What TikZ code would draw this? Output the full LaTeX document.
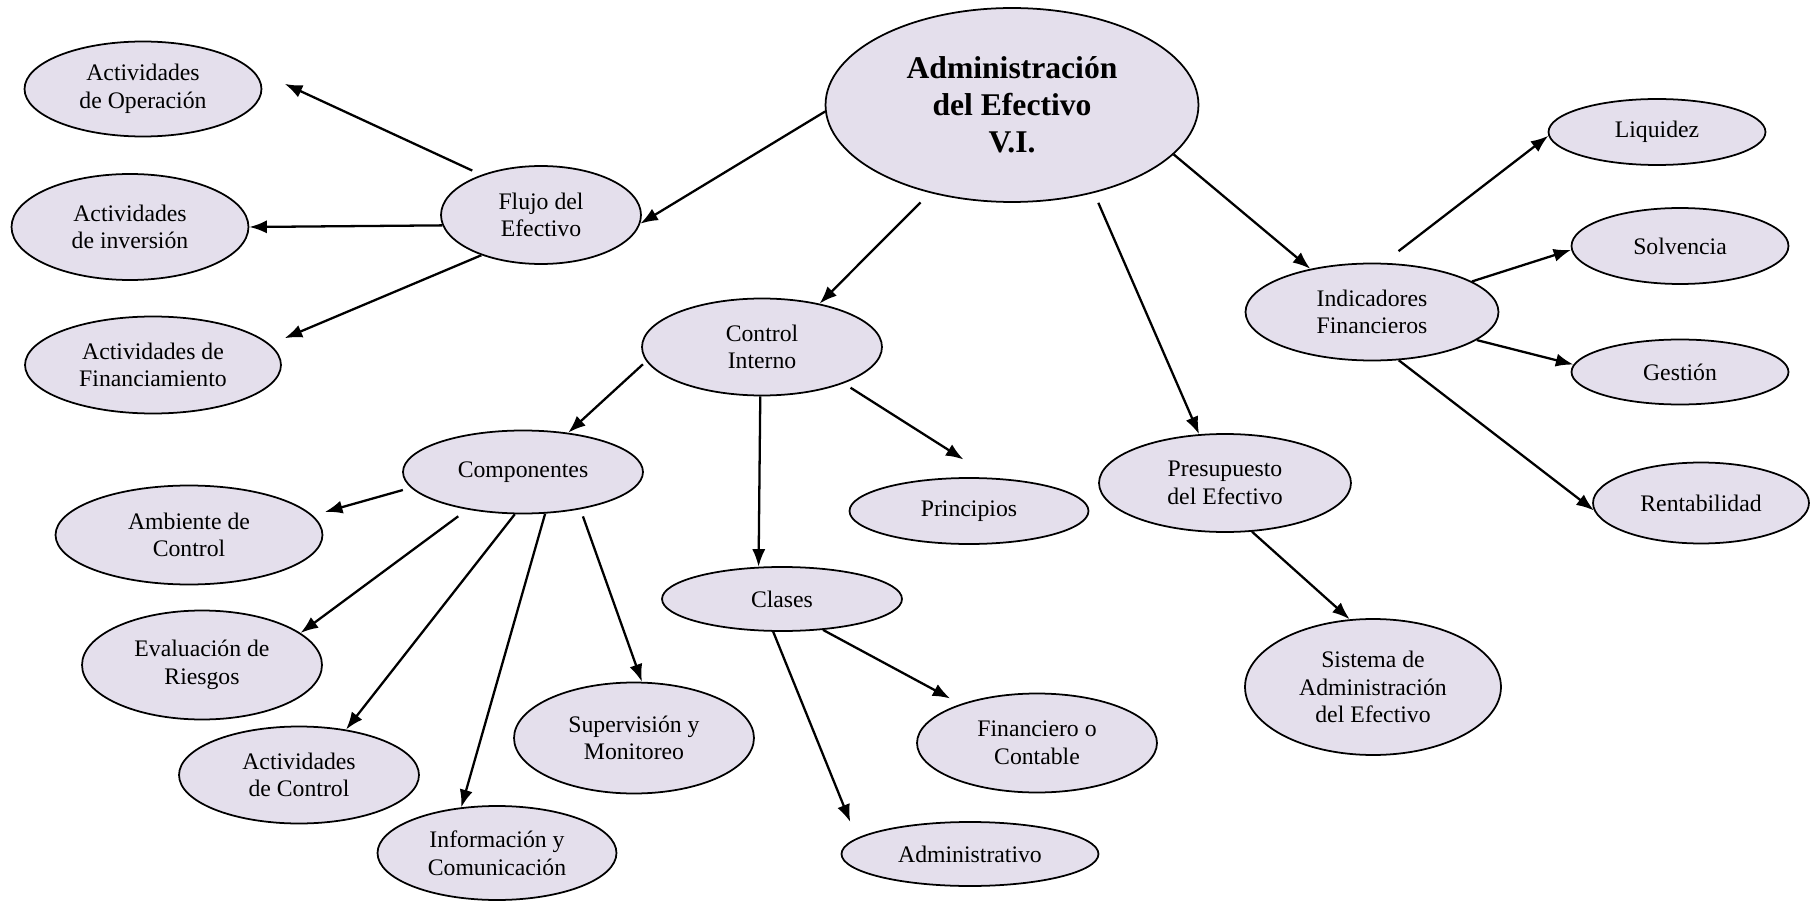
\documentclass[tikz,border=0pt]{standalone}
\usepackage{fontspec}
\setmainfont{Liberation Serif}
\usetikzlibrary{shapes.geometric,arrows.meta}
\definecolor{lavanda}{RGB}{228,223,236}
\begin{document}
\begin{tikzpicture}
  [x=0.02cm,y=-0.02cm,>={Latex[length=10pt,width=7.5pt]},
   concept/.style={ellipse,draw,fill=lavanda,line width=1pt,inner sep=0pt,
     align=center,font=\fontsize{13.5}{15.7}\selectfont},
   title/.style={concept,font=\fontsize{18}{21}\selectfont\bfseries},
   link/.style={->,line width=1.3pt}]
  \useasboundingbox (0,0) rectangle (1813,902);

  \node (main) at (1012,105) [title,minimum width=7.46cm,minimum height=3.88cm] {Administración\\del Efectivo\\V.I.};

  \node (flujo) at (541,215) [concept,minimum width=4cm,minimum height=1.96cm] {Flujo del\\Efectivo};
  \node (actop) at (143,89) [concept,minimum width=4.74cm,minimum height=1.9cm] {Actividades\\de Operación};
  \node (actinv) at (130,227) [concept,minimum width=4.74cm,minimum height=2.12cm] {Actividades\\de inversión};
  \node (actfin) at (153,365) [concept,minimum width=5.12cm,minimum height=1.94cm] {Actividades de\\Financiamiento};

  \node (control) at (762,347) [concept,minimum width=4.8cm,minimum height=1.94cm] {Control\\Interno};
  \node (comp) at (523,472) [concept,minimum width=4.8cm,minimum height=1.66cm] {Componentes};
  \node (amb) at (189,535) [concept,minimum width=5.34cm,minimum height=1.98cm] {Ambiente de\\Control};
  \node (eval) at (202,665) [concept,minimum width=4.8cm,minimum height=2.18cm] {Evaluación de\\Riesgos};
  \node (actctrl) at (299,775) [concept,minimum width=4.8cm,minimum height=1.94cm] {Actividades\\de Control};
  \node (info) at (497,853) [concept,minimum width=4.78cm,minimum height=1.88cm] {Información y\\Comunicación};
  \node (superv) at (634,738) [concept,minimum width=4.8cm,minimum height=2.22cm] {Supervisión y\\Monitoreo};
  \node (princ) at (969,511) [concept,minimum width=4.78cm,minimum height=1.32cm] {Principios};
  \node (clases) at (782,599) [concept,minimum width=4.8cm,minimum height=1.28cm] {Clases};
  \node (fin) at (1037,743) [concept,minimum width=4.8cm,minimum height=1.98cm] {Financiero o\\Contable};
  \node (admin) at (970,854) [concept,minimum width=5.14cm,minimum height=1.28cm] {Administrativo};

  \node (presup) at (1225,483) [concept,minimum width=5.04cm,minimum height=1.96cm] {Presupuesto\\del Efectivo};
  \node (sist) at (1373,687) [concept,minimum width=5.12cm,minimum height=2.72cm] {Sistema de\\Administración\\del Efectivo};

  \node (ind) at (1372,312) [concept,minimum width=5.06cm,minimum height=1.94cm] {Indicadores\\Financieros};
  \node (liq) at (1657,132) [concept,minimum width=4.34cm,minimum height=1.32cm] {Liquidez};
  \node (solv) at (1680,246) [concept,minimum width=4.34cm,minimum height=1.52cm] {Solvencia};
  \node (gest) at (1680,372) [concept,minimum width=4.34cm,minimum height=1.3cm] {Gestión};
  \node (rent) at (1701,503) [concept,minimum width=4.32cm,minimum height=1.62cm] {Rentabilidad};

  % flujo del efectivo
  \draw [link] (main.182) to (flujo.-5);
  \draw [link,shorten <=5.7pt,shorten >=21.4pt] (flujo.146) to (actop.11);
  \draw [link] (flujo.186) to (actinv.0);
  \draw [link,shorten >=9pt] (flujo.214) to (actfin.10);

  % control interno
  \draw [link,shorten <=7.6pt] (main.227) to (control.37);
  \draw [link,shorten <=2.6pt] (control.187) to (comp.41);
  \draw [link,shorten <=4.6pt,shorten >=19.4pt] (control.-24) to (princ.55);
  \draw [link] (control.-92) to (clases.126);
  \draw [link,shorten <=4.7pt,shorten >=7.2pt] (comp.188) to (amb.9);
  \draw [link,shorten <=6.4pt] (comp.214) to (eval.18);
  \draw [link] (comp.259) to (actctrl.44);
  \draw [link] (comp.-62) to (info.128);
  \draw [link,shorten <=4.3pt] (comp.-33) to (superv.82);
  \draw [link,shorten >=6.6pt] (clases.-37) to (fin.153);
  \draw [link,shorten >=9.9pt] (clases.255) to (admin.172);

  % presupuesto e indicadores
  \draw [link,shorten <=6.1pt] (main.-47) to (presup.118);
  \draw [link] (presup.-61) to (sist.109);
  \draw [link] (main.-17) to (ind.145);
  \draw [link,shorten <=10.9pt] (ind.77) to (liq.182);
  \draw [link] (ind.17) to (solv.182);
  \draw [link] (ind.-15) to (gest.176);
  \draw [link] (ind.-61) to (rent.184);
\end{tikzpicture}
\end{document}
